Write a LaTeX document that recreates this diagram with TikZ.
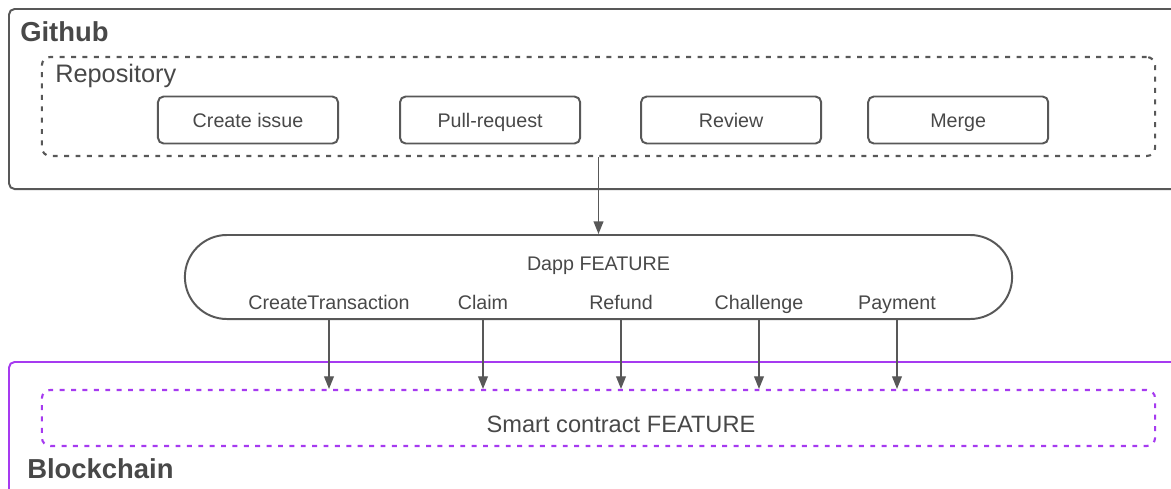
\documentclass[tikz,border=0pt]{standalone}
\usepackage{fontspec}
\setmainfont{Liberation Sans}
\usetikzlibrary{arrows.meta, positioning}
\definecolor{linegray}{RGB}{88,88,88}
\definecolor{txtgray}{RGB}{72,72,72}
\definecolor{chainpurple}{RGB}{166,58,240}

\begin{document}
\begin{tikzpicture}[x=0.025cm, y=-0.025cm, >={Triangle[length=9pt,width=7pt]},
        box/.style={draw=linegray, line width=1.4pt, rounded corners=4pt},
        task/.style={box, outer sep=0pt, minimum width=4.5cm, minimum height=1.175cm, text height=10pt, text depth=0pt, text=txtgray, font=\fontsize{14}{16}\selectfont},
        repobox/.style={draw=linegray, line width=1.5pt, dash pattern=on 3.5pt off 4.6pt, rounded corners=6pt},
        chainbox/.style={draw=chainpurple, line width=1.5pt, dash pattern=on 3.5pt off 4.6pt, rounded corners=6pt},
        head/.style={anchor=base west, inner sep=0pt, text=txtgray, font=\fontsize{19.5}{22}\selectfont\bfseries},
        op/.style={anchor=base, inner sep=0pt, text=txtgray, font=\fontsize{14}{16}\selectfont},
        flow/.style={->, draw=linegray, line width=1pt}]
        \path[use as bounding box, clip] (0,0) rectangle (1171,488);
        % Github side
        \node[box, anchor=north west, minimum width=29.8cm, minimum height=4.5cm] (github) at (8,8) {};
        \node[head] at (20,41) {Github};
        \node[repobox, minimum width=27.825cm, minimum height=2.475cm] (repo) at (598.5,106.5) {};
        \node[anchor=base west, inner sep=0pt, text=txtgray, font=\fontsize{18}{20}\selectfont] at (55,82) {Repository};
        \node[task] (issue) at (248,120) {Create issue};
        \node[task, right=1.55cm of issue] (pr) {Pull-request};
        \node[task, right=1.525cm of pr] (review) {Review};
        \node[task, right=1.175cm of review] (merge) {Merge};
        % Dapp
        \node[box, rounded corners=1.05cm, minimum width=20.675cm, minimum height=2.1cm] (dapp) at (598.5,277) {};
        \node[op] (feat) at (598.5,270) {Dapp FEATURE};
        \node[op] (ct) at (329,309) {CreateTransaction};
        \node[op] (claim) at (483,309) {Claim};
        \node[op] (refund) at (621,309) {Refund};
        \node[op] (chall) at (759,309) {Challenge};
        \node[op] (pay) at (897,309) {Payment};
        % Blockchain side
        \node[draw=chainpurple, line width=1.4pt, rounded corners=4pt, anchor=north west, minimum width=29.8cm, minimum height=4cm] (chain) at (8,361) {};
        \node[chainbox, minimum width=27.825cm, minimum height=1.4cm] (smart) at (598.5,418) {};
        \node[anchor=base, inner sep=0pt, text=txtgray, font=\fontsize{16.8}{19}\selectfont] (sc) at (621,432) {Smart contract FEATURE};
        \node[head] at (27,478) {Blockchain};
        % Arrows
        \draw[flow] (repo.south) -- (dapp.north);
        \foreach \f in {ct, claim, refund, chall, pay}
            \draw[flow] (\f.base |- dapp.south) -- (\f.base |- smart.north);
    \end{tikzpicture}
\end{document}
